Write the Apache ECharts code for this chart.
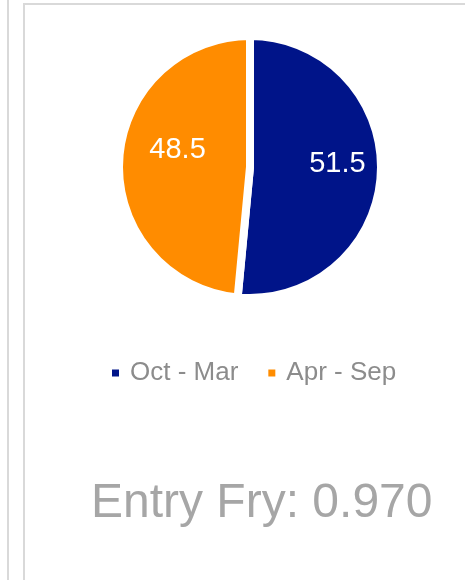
<!DOCTYPE html>
<html>
<head>
<meta charset="utf-8">
<script src="https://cdn.jsdelivr.net/npm/echarts@6/dist/echarts.min.js"></script>
<style>
    html, body { margin: 0; padding: 0; background: #fff; }
    #chart { width: 465px; height: 580px; }
</style>
</head>
<body>
<div id="chart"></div>
<script>
// season split of entry fry
const seasons = ['Oct - Mar', 'Apr - Sep'];
const shares = [51.5, 48.5];
const seasonColors = ['#001489', '#FF8C00'];
const entryFry = '0.970';

// nudge labels to where the original sits them
const labelOffsets = [[19, -6], [-4, -14]];

const myChart = echarts.init(document.getElementById('chart'));

const pieData = seasons.map((name, i) => ({
    name: name,
    value: shares[i],
    itemStyle: { color: seasonColors[i] },
    label: { offset: labelOffsets[i] }
}));

const option = {
    backgroundColor: '#ffffff',
    animation: false,
    title: {
        text: 'Entry Fry: ' + entryFry,
        left: 86,
        top: 475,
        textStyle: {
            color: '#a6a6a6',
            fontSize: 48,
            fontWeight: 'normal',
            fontFamily: 'Liberation Sans, Arial, sans-serif'
        }
    },
    legend: {
        data: seasons,
        left: 105,
        top: 355,
        icon: 'rect',
        itemWidth: 9,
        itemHeight: 9,
        itemGap: 28,
        textStyle: {
            color: '#8c8c8c',
            fontSize: 26,
            padding: [0, 0, 0, 5],
            fontFamily: 'Liberation Sans, Arial, sans-serif'
        }
    },
    graphic: [
        { type: 'rect', shape: { x: 7, y: 0, width: 2, height: 580 }, style: { fill: '#d9d9d9' } },
        { type: 'rect', shape: { x: 23, y: 3, width: 442, height: 2 }, style: { fill: '#d9d9d9' } },
        { type: 'rect', shape: { x: 23, y: 3, width: 2, height: 577 }, style: { fill: '#d9d9d9' } }
    ],
    series: [{
        type: 'pie',
        center: [250, 167],
        radius: 131,
        startAngle: 90,
        clockwise: true,
        data: pieData,
        itemStyle: {
            borderColor: '#ffffff',
            borderWidth: 8
        },
        label: {
            show: true,
            position: 'inside',
            formatter: '{c}',
            color: '#ffffff',
            fontSize: 29,
            fontFamily: 'Liberation Sans, Arial, sans-serif'
        },
        labelLine: { show: false },
        emphasis: { disabled: true }
    }]
};

myChart.setOption(option);
window.addEventListener('resize', () => {
    myChart.resize();
});
</script>
</body>
</html>
